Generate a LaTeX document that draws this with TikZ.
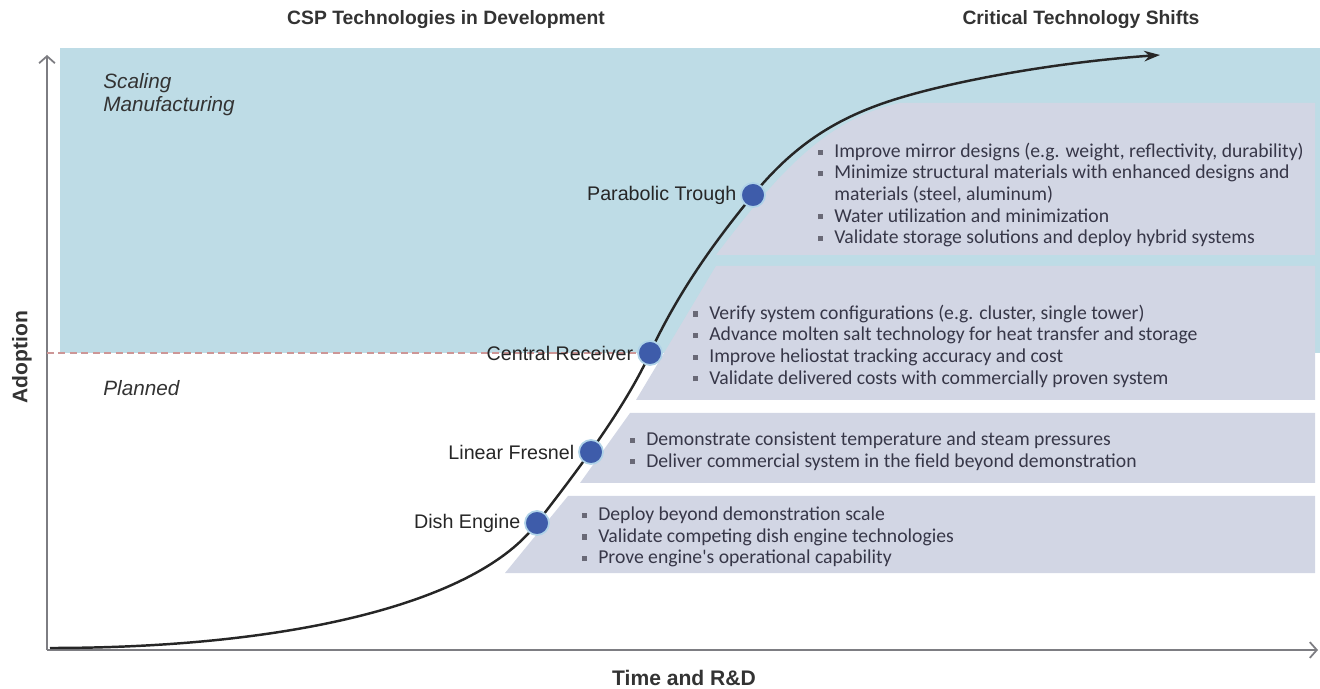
\documentclass[tikz,border=0pt]{standalone}
\usepackage{fontspec}
\setmainfont{Liberation Sans}
\newfontfamily\listfont{Carlito}
\usepackage{xcolor}
\usepackage{tikz}
\usetikzlibrary{arrows.meta, positioning}
\definecolor{skyfill}{RGB}{190, 220, 230}
\definecolor{boxfill}{RGB}{210, 214, 228}
\definecolor{dotblue}{RGB}{62, 92, 170}
\definecolor{dothalo}{RGB}{175, 210, 232}
\definecolor{axisgray}{RGB}{125, 125, 130}
\definecolor{dashpink}{RGB}{205, 150, 150}
\definecolor{listgray}{RGB}{55, 55, 72}
\newcommand{\bul}{{\color{listgray!75}\rule[0.28ex]{0.26em}{0.26em}}\hspace{0.55em}}
\newcommand{\nobul}{\phantom{\bul}}
\tikzset{
  techdot/.style={circle, fill=dotblue, draw=dothalo, line width=1pt,
    minimum size=0.48cm, inner sep=0pt},
  techlabel/.style={font=\fontsize{11.2}{13}\selectfont, text=black!85, inner sep=1pt},
  shiftlist/.style={font=\listfont\fontsize{11.2}{12.3}\selectfont, text=listgray,
    align=left, anchor=west, inner sep=0pt},
  heading/.style={font=\bfseries\fontsize{11}{13}\selectfont, text=black!80},
  zonelabel/.style={font=\itshape\fontsize{11.8}{13}\selectfont, text=black!80,
    align=left, anchor=west, inner sep=0pt}
}

\begin{document}
\begin{tikzpicture}[x=0.02cm, y=-0.02cm]
        \useasboundingbox (0,0) rectangle (1320,689);
        % Scaling zone
        \fill[skyfill] (60,48) rectangle (1320,353);
        % Shift boxes
        \fill[boxfill] (716,255) .. controls (770,185) and (820,120) .. (900,103)
          -- (1315,103) -- (1315,255) -- cycle;
        \fill[boxfill] (716,266) -- (1315,266) -- (1315,400) -- (636,400) -- cycle;
        \fill[boxfill] (630,413) -- (1315,413) -- (1315,483) -- (580,483) -- cycle;
        \fill[boxfill] (568,496) -- (1315,496) -- (1315,573) -- (505,573) -- cycle;
        % Axes
        \coordinate (origin) at (47,650);
        \coordinate (ytip) at (47,55);
        \coordinate (xtip) at (1318,650);
        \draw[axisgray, line width=1pt, -{Straight Barb[length=4pt, width=9pt]}]
          (origin) -- (ytip);
        \draw[axisgray, line width=1pt, -{Straight Barb[length=4pt, width=9pt]}]
          (origin) -- (xtip);
        % Adoption curve
        \coordinate (start) at (50,648);
        \coordinate (dishpt) at (537,523);
        \coordinate (receiverpt) at (650,353);
        \coordinate (troughpt) at (753,195);
        \coordinate (bend) at (893,100);
        \coordinate (end) at (1160,55);
        \draw[line width=1.4pt, black!85, -{Stealth[length=9pt, width=6pt]}]
          (start) .. controls (300,648) and (480,600) .. (dishpt)
          .. controls (562,490) and (622,415) .. (receiverpt)
          .. controls (680,288) and (720,235) .. (troughpt)
          .. controls (790,150) and (830,120) .. (bend)
          .. controls (956,80) and (1060,62) .. (end);
        % Technology dots
        \node[techdot] (trough) at (troughpt) {};
        \node[techdot] (receiver) at (receiverpt) {};
        \node[techdot] (fresnel) at (591,452) {};
        \node[techdot] (dish) at (dishpt) {};
        % Planned / scaling border
        \coordinate (border) at (47,353);
        \draw[dashpink, line width=0.9pt, dash pattern=on 4pt off 2.5pt]
          (border) -- (receiver.west);
        % Technology names
        \node[techlabel, left=1pt of trough] (troughname) {Parabolic Trough};
        \node[techlabel, left=1pt of receiver] (receivername) {Central Receiver};
        \node[techlabel, left=1pt of fresnel] (fresnelname) {Linear Fresnel};
        \node[techlabel, left=1pt of dish] (dishname) {Dish Engine};
        % Critical shifts
        \node[shiftlist] (troughshifts) at (818,195)
          {\bul Improve mirror designs (e.g. weight, reflectivity, durability)\\
           \bul Minimize structural materials with enhanced designs and\\
           \nobul materials (steel, aluminum)\\
           \bul Water utilization and minimization\\
           \bul Validate storage solutions and deploy hybrid systems};
        \node[shiftlist] (receivershifts) at (693,346)
          {\bul Verify system configurations (e.g. cluster, single tower)\\
           \bul Advance molten salt technology for heat transfer and storage\\
           \bul Improve heliostat tracking accuracy and cost\\
           \bul Validate delivered costs with commercially proven system};
        \node[shiftlist] (fresnelshifts) at (630,451)
          {\bul Demonstrate consistent temperature and steam pressures\\
           \bul Deliver commercial system in the field beyond demonstration};
        \node[shiftlist] (dishshifts) at (582,537)
          {\bul Deploy beyond demonstration scale\\
           \bul Validate competing dish engine technologies\\
           \bul Prove engine's operational capability};
        % Zones
        \node[zonelabel] (scaling) at (103,95) {Scaling\\Manufacturing};
        \node[zonelabel] (planned) at (103,388) {Planned};
        % Headings and axis titles
        \node[heading] (devtitle) at (446,20) {CSP Technologies in Development};
        \node[heading] (shifttitle) at (1081,20) {Critical Technology Shifts};
        \node[heading, font=\bfseries\fontsize{12}{14}\selectfont] (xtitle)
          at (684,678) {Time and R\&D};
        \node[heading, font=\bfseries\fontsize{12}{14}\selectfont, rotate=90] (ytitle)
          at (22,357) {Adoption};
      \end{tikzpicture}
\end{document}
